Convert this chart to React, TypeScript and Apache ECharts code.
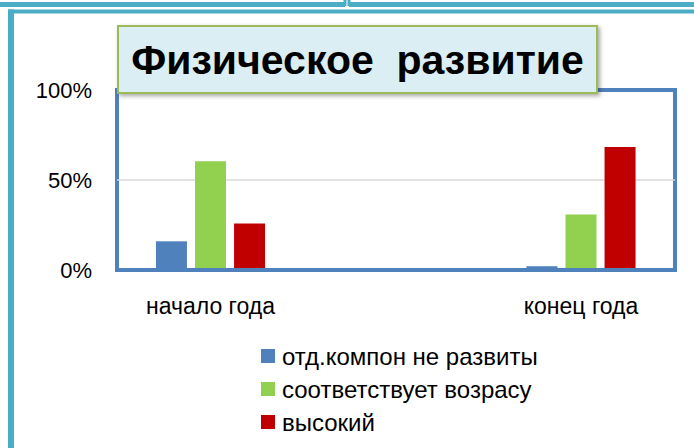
import React, { useEffect, useRef } from 'react';
import * as echarts from 'echarts';

const categories = ['начало года', 'конец года'];
const seriesNames = ['отд.компон не развиты', 'соответствует возрасу', 'высокий'];
const notDeveloped = [15, 1];
const ageAppropriate = [60, 30];
const high = [25, 68];
const yTicks = [0, 50, 100];
const titleText = 'Физическое  развитие';
const colors = ['#4f81bd', '#92d050', '#c00000'];

const FONT = '"Liberation Sans", Arial, sans-serif';

export default function App() {
  const ref = useRef<HTMLDivElement>(null);
  useEffect(() => {
    if (!ref.current) return;
    const chart = echarts.init(ref.current, undefined, { renderer: 'svg' });
    const data = [notDeveloped, ageAppropriate, high];
    chart.setOption({
      animation: false,
      backgroundColor: '#ffffff',
      textStyle: { fontFamily: FONT },
      grid: [
        { left: 117, top: 90, width: 558, height: 180, show: true, borderColor: '#4f81bd', borderWidth: 4, backgroundColor: 'transparent' },
        { left: 210.5, top: 90, width: 370.5, height: 178 },
      ],
      xAxis: [
        { gridIndex: 0, type: 'value', show: false, min: 0, max: 1 },
        {
          gridIndex: 1, type: 'category', data: categories, boundaryGap: false,
          axisLine: { show: false }, axisTick: { show: false },
          axisLabel: { margin: 26, fontSize: 23, color: '#000', fontFamily: FONT },
        },
      ],
      yAxis: [
        {
          gridIndex: 0, type: 'value', min: yTicks[0], max: yTicks[yTicks.length - 1], interval: yTicks[1] - yTicks[0],
          axisLabel: { formatter: '{value}%', margin: 25, fontSize: 22, color: '#000', fontFamily: FONT },
          splitLine: { showMinLine: false, showMaxLine: false, lineStyle: { color: '#d9d9d9', width: 1.5 } },
          axisLine: { show: false }, axisTick: { show: false },
        },
        { gridIndex: 1, type: 'value', min: yTicks[0], max: yTicks[yTicks.length - 1], show: false },
      ],
      legend: {
        orient: 'vertical', left: 256, top: 339, itemWidth: 14, itemHeight: 14, itemGap: 9,
        icon: 'rect', data: seriesNames,
        textStyle: { fontSize: 24, color: '#000', fontFamily: FONT, padding: [0, 0, 0, 2] },
      },
      series: seriesNames.map((name, i) => ({
        name, type: 'bar', xAxisIndex: 1, yAxisIndex: 1, data: data[i],
        barWidth: 31, barGap: '26%',
        itemStyle: { color: colors[i] },
      })),
      graphic: [
        { type: 'line', shape: { x1: 0, y1: 4.5, x2: 345, y2: 4.5 }, style: { stroke: '#4bacc6', lineWidth: 5 } },
        { type: 'line', shape: { x1: 345, y1: 0, x2: 345, y2: 6 }, style: { stroke: '#4bacc6', lineWidth: 3 } },
        { type: 'line', shape: { x1: 349, y1: 4.5, x2: 694, y2: 4.5 }, style: { stroke: '#4bacc6', lineWidth: 5 } },
        { type: 'line', shape: { x1: 349, y1: 0, x2: 349, y2: 6 }, style: { stroke: '#4bacc6', lineWidth: 3 } },
        { type: 'line', shape: { x1: 8, y1: 11.5, x2: 694, y2: 11.5 }, style: { stroke: '#4bacc6', lineWidth: 4 } },
        { type: 'line', shape: { x1: 11, y1: 9.5, x2: 11, y2: 448 }, style: { stroke: '#4bacc6', lineWidth: 6 } },
        {
          type: 'rect', z: 100, shape: { x: 118, y: 26, width: 479, height: 67 },
          style: { fill: '#dbeef4', stroke: '#9bbb59', lineWidth: 2, shadowBlur: 4, shadowOffsetX: 2, shadowOffsetY: 2, shadowColor: 'rgba(0,0,0,0.35)' },
        },
        {
          type: 'text', z: 101, x: 357.5, y: 60,
          style: { text: titleText, fontSize: 41, fontWeight: 'bold', fontFamily: FONT, fill: '#000', align: 'center', verticalAlign: 'middle' },
        },
      ],
    });
    return () => chart.dispose();
  }, []);
  return <div ref={ref} style={{ position: 'fixed', left: 0, top: 0, width: 694, height: 448 }} />;
}
